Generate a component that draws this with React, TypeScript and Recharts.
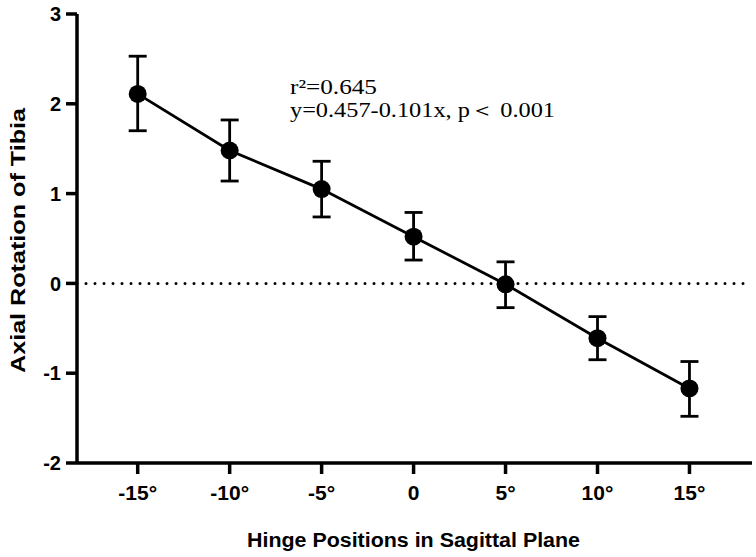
import React from "react";
import {
  ComposedChart,
  Line,
  XAxis,
  YAxis,
  ReferenceLine,
  ErrorBar,
} from "recharts";

const positions = [-15, -10, -5, 0, 5, 10, 15];
const tickLabels = ["-15°", "-10°", "-5°", "0", "5°", "10°", "15°"];
const means = [2.11, 1.48, 1.05, 0.52, -0.01, -0.61, -1.17];
const upper = [2.53, 1.82, 1.36, 0.79, 0.24, -0.37, -0.87];
const lower = [1.7, 1.14, 0.74, 0.26, -0.27, -0.85, -1.48];
const yTicks = [-2, -1, 0, 1, 2, 3];

const data = positions.map((p, i) => ({
  x: p,
  y: means[i],
  err: [means[i] - lower[i], upper[i] - means[i]],
}));

const W = 756;
const H = 557;
const bold = { fontFamily: "'Liberation Sans', Arial, sans-serif", fontWeight: 700 };
const serif = { fontFamily: "'Liberation Serif', 'Times New Roman', serif" };

const Dot = (props: any) => {
  const { cx, cy } = props;
  if (cx == null || cy == null) return null;
  return <circle cx={cx} cy={cy} r={9} fill="#000" />;
};

export default function App() {
  return (
    <div style={{ position: "absolute", left: 0, top: 0, width: W, height: H, background: "#fff" }}>
      <ComposedChart
        width={W}
        height={H}
        data={data}
        margin={{ top: 14, right: 4, bottom: 0, left: 0 }}
      >
        <XAxis
          dataKey="x"
          type="number"
          domain={[-18.3, 18.4]}
          ticks={positions}
          tickFormatter={(v: number) => tickLabels[positions.indexOf(v)] ?? String(v)}
          height={94}
          axisLine={{ stroke: "#000", strokeWidth: 3.5 }}
          tickLine={{ stroke: "#000", strokeWidth: 3.5 }}
          tickSize={11}
          tickMargin={11}
          tick={{ fill: "#000", fontSize: 21, ...bold }}
          allowDataOverflow
        />
        <YAxis
          type="number"
          domain={[-2, 3]}
          ticks={yTicks}
          width={77}
          axisLine={{ stroke: "#000", strokeWidth: 3.5 }}
          tickLine={{ stroke: "#000", strokeWidth: 3.5 }}
          tickSize={11}
          tickMargin={5}
          tick={{ fill: "#000", fontSize: 20, ...bold }}
          allowDataOverflow
        />
        <ReferenceLine
          y={0}
          stroke="#000"
          strokeWidth={3}
          strokeDasharray="0 9"
          strokeLinecap="round"
        />
        <Line
          dataKey="y"
          stroke="#000"
          strokeWidth={2.8}
          dot={<Dot />}
          activeDot={false}
          isAnimationActive={false}
        >
          <ErrorBar
            dataKey="err"
            direction="y"
            width={9}
            stroke="#000"
            strokeWidth={2.8}
            isAnimationActive={false}
          />
        </Line>
      </ComposedChart>
      <svg
        width={W}
        height={H}
        style={{ position: "absolute", left: 0, top: 0, pointerEvents: "none" }}
      >
        <text
          x={247}
          y={547}
          fontSize={20}
          fill="#000"
          textLength={333}
          lengthAdjust="spacingAndGlyphs"
          style={bold}
        >
          Hinge Positions in Sagittal Plane
        </text>
        <text
          x={0}
          y={0}
          transform="translate(25,373) rotate(-90)"
          fontSize={20}
          fill="#000"
          textLength={265}
          lengthAdjust="spacingAndGlyphs"
          style={bold}
        >
          Axial Rotation of Tibia
        </text>
        <text
          x={290}
          y={94}
          fontSize={21}
          fill="#000"
          textLength={87}
          lengthAdjust="spacingAndGlyphs"
          style={serif}
        >
          r²=0.645
        </text>
        <text
          x={290}
          y={117}
          fontSize={21}
          fill="#000"
          textLength={265}
          lengthAdjust="spacingAndGlyphs"
          style={serif}
        >
          y=0.457-0.101x, p＜ 0.001
        </text>
      </svg>
    </div>
  );
}
